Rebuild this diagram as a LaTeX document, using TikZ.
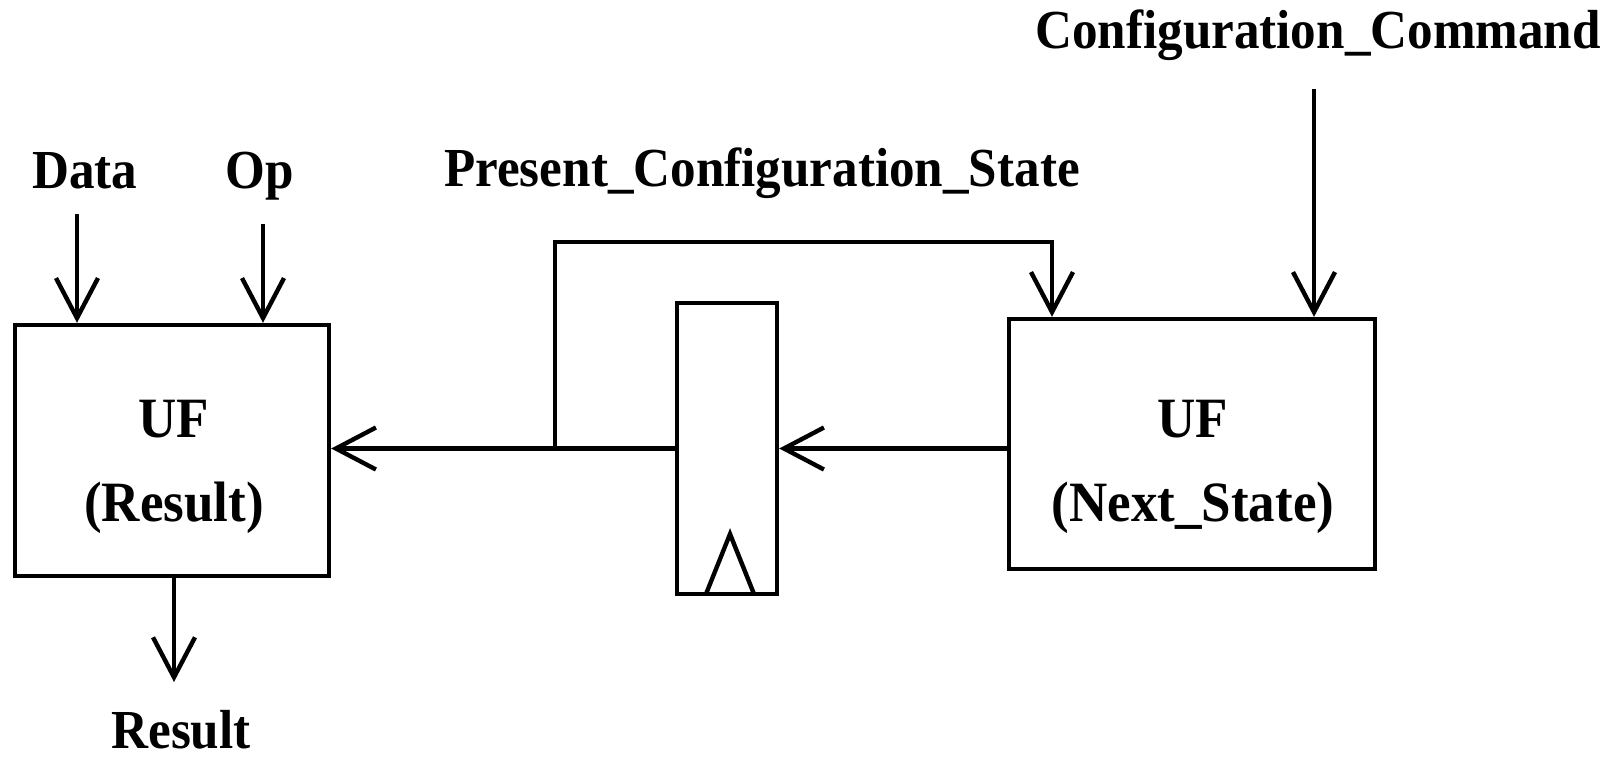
\documentclass[tikz,border=0pt]{standalone}
\usepackage{fontspec}
\setmainfont{Liberation Serif}[FakeStretch=0.93]
\usetikzlibrary{arrows.meta}
\begin{document}
\begin{tikzpicture}[x=0.5pt,y=-0.5pt,
  blk/.style={draw, line width=2.2pt, inner sep=0pt},
  lbl/.style={font=\fontsize{27.5}{42}\selectfont\bfseries, inner sep=0pt},
  wire/.style={line width=2.2pt},
  arr/.style={wire, -{Straight Barb[length=20pt,width=21pt,line width=2.2pt]}}]
\useasboundingbox (0,0) rectangle (1620,757);
% blocks
\node[blk, minimum width=157pt, minimum height=125.5pt] (ufr) at (172,450.5) {};
\node[blk, minimum width=50pt, minimum height=145.5pt] (reg) at (727,448.5) {};
\node[blk, minimum width=183pt, minimum height=125pt] (ufn) at (1192,444) {};
% clock triangle
\draw[wire, line join=miter] (706,594) -- (730,534) -- (754,594);
% labels
\node[lbl, anchor=base] (ldata) at (85,188) {Data};
\node[lbl, anchor=base] (lop) at (260,188) {Op};
\node[lbl, anchor=base] (lpcs) at (762,186) {Present\_Configuration\_State};
\node[lbl, anchor=base] (lcc) at (1318,48) {Configuration\_Command};
\node[lbl, anchor=base] (lres) at (181,748) {Result};
\node[lbl, align=center, font=\fontsize{28.5}{42}\selectfont\bfseries] (tufr) at (174,467) {UF\\(Result)};
\node[lbl, align=center, font=\fontsize{28.5}{42}\selectfont\bfseries] (tufn) at (1193,467) {UF\\(Next\_State)};
% connectors
\coordinate (dtop) at (77,214);
\coordinate (otop) at (263,224);
\coordinate (rbot) at (174,682);
\coordinate (cctop) at (1314,89);
\coordinate (tap) at (555,448.5);
\coordinate (fbk) at (1052,242);
\draw[arr] (dtop) -- (dtop |- ufr.north);
\draw[arr] (otop) -- (otop |- ufr.north);
\draw[arr] (rbot |- ufr.south) -- (rbot);
\draw[arr] (reg.west |- tap) -- (ufr.east |- tap);
\draw[arr] (tap) |- (fbk) -- (fbk |- ufn.north);
\draw[arr] (ufn.west |- tap) -- (reg.east |- tap);
\draw[arr] (cctop) -- (cctop |- ufn.north);
\end{tikzpicture}
\end{document}
